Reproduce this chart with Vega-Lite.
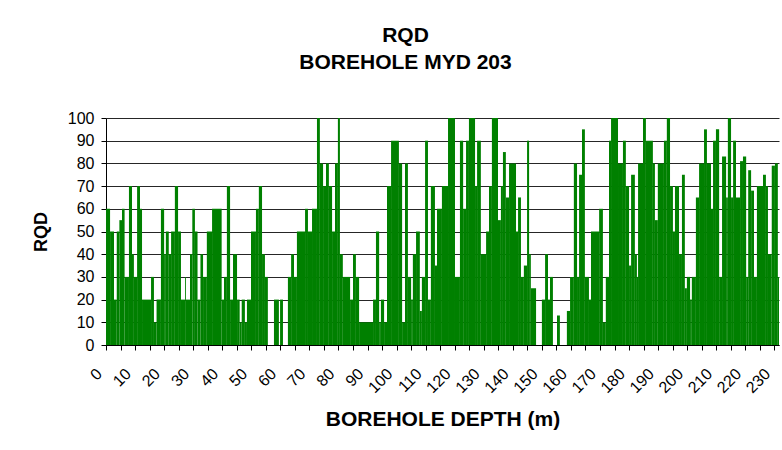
{
  "$schema": "https://vega.github.io/schema/vega-lite/v6.json",
  "width": 673,
  "height": 227,
  "autosize": {"type": "none"},
  "padding": {"left": 106, "top": 118, "right": 3, "bottom": 105},
  "background": "white",
  "title": {
    "text": ["RQD", "BOREHOLE MYD 203"],
    "font": "Liberation Sans",
    "fontSize": 21,
    "fontWeight": "bold",
    "color": "black",
    "anchor": "middle",
    "baseline": "bottom",
    "dx": -37,
    "offset": 16,
    "lineHeight": 27
  },
  "config": {
    "view": {"stroke": null},
    "axis": {
      "labelFont": "Liberation Sans",
      "labelFontSize": 16,
      "labelColor": "black",
      "titleFont": "Liberation Sans",
      "titleFontSize": 18,
      "titleFontWeight": "bold",
      "titleColor": "black",
      "domainColor": "black",
      "tickColor": "black",
      "tickSize": 5
    }
  },
  "data": {
    "values": [
      {"from": 0, "to": 1.4, "rqd": 60},
      {"from": 1.4, "to": 2.75, "rqd": 50},
      {"from": 2.75, "to": 3.7, "rqd": 20},
      {"from": 3.7, "to": 4.6, "rqd": 50},
      {"from": 4.6, "to": 5.5, "rqd": 55},
      {"from": 5.5, "to": 6.4, "rqd": 60},
      {"from": 6.4, "to": 7.9, "rqd": 30},
      {"from": 7.9, "to": 8.95, "rqd": 70},
      {"from": 8.95, "to": 9.6, "rqd": 40},
      {"from": 9.6, "to": 10.7, "rqd": 30},
      {"from": 10.7, "to": 11.7, "rqd": 70},
      {"from": 11.7, "to": 12.4, "rqd": 60},
      {"from": 12.4, "to": 15.5, "rqd": 20},
      {"from": 15.5, "to": 16.5, "rqd": 30},
      {"from": 16.5, "to": 17.4, "rqd": 10},
      {"from": 17.4, "to": 18.9, "rqd": 20},
      {"from": 18.9, "to": 20.0, "rqd": 60},
      {"from": 20.0, "to": 20.6, "rqd": 40},
      {"from": 20.6, "to": 21.6, "rqd": 50},
      {"from": 21.6, "to": 22.4, "rqd": 40},
      {"from": 22.4, "to": 23.7, "rqd": 50},
      {"from": 23.7, "to": 24.8, "rqd": 70},
      {"from": 24.8, "to": 25.8, "rqd": 50},
      {"from": 25.8, "to": 27.2, "rqd": 20},
      {"from": 27.2, "to": 27.5, "rqd": 30},
      {"from": 27.5, "to": 28.9, "rqd": 20},
      {"from": 28.9, "to": 29.7, "rqd": 40},
      {"from": 29.7, "to": 30.6, "rqd": 60},
      {"from": 30.6, "to": 31.5, "rqd": 50},
      {"from": 31.5, "to": 32.5, "rqd": 20},
      {"from": 32.5, "to": 33.4, "rqd": 40},
      {"from": 33.4, "to": 34.7, "rqd": 30},
      {"from": 34.7, "to": 36.5, "rqd": 50},
      {"from": 36.5, "to": 39.8, "rqd": 60},
      {"from": 39.8, "to": 40.6, "rqd": 20},
      {"from": 40.6, "to": 41.6, "rqd": 30},
      {"from": 41.6, "to": 42.7, "rqd": 70},
      {"from": 42.7, "to": 43.7, "rqd": 20},
      {"from": 43.7, "to": 45.1, "rqd": 40},
      {"from": 45.1, "to": 46.0, "rqd": 20},
      {"from": 46.0, "to": 46.7, "rqd": 10},
      {"from": 46.7, "to": 47.8, "rqd": 20},
      {"from": 47.8, "to": 48.5, "rqd": 10},
      {"from": 48.5, "to": 49.9, "rqd": 20},
      {"from": 49.9, "to": 51.6, "rqd": 50},
      {"from": 51.6, "to": 52.6, "rqd": 60},
      {"from": 52.6, "to": 53.7, "rqd": 70},
      {"from": 53.7, "to": 54.7, "rqd": 40},
      {"from": 54.7, "to": 55.7, "rqd": 30},
      {"from": 57.8, "to": 59.5, "rqd": 20},
      {"from": 59.9, "to": 60.9, "rqd": 20},
      {"from": 62.6, "to": 63.7, "rqd": 30},
      {"from": 63.7, "to": 64.7, "rqd": 40},
      {"from": 64.7, "to": 65.7, "rqd": 30},
      {"from": 65.7, "to": 68.5, "rqd": 50},
      {"from": 68.5, "to": 69.5, "rqd": 60},
      {"from": 69.5, "to": 70.9, "rqd": 50},
      {"from": 70.9, "to": 72.6, "rqd": 60},
      {"from": 72.6, "to": 73.6, "rqd": 100},
      {"from": 73.6, "to": 74.7, "rqd": 80},
      {"from": 74.7, "to": 75.7, "rqd": 70},
      {"from": 75.7, "to": 76.7, "rqd": 80},
      {"from": 76.7, "to": 77.8, "rqd": 70},
      {"from": 77.8, "to": 78.8, "rqd": 50},
      {"from": 78.8, "to": 79.8, "rqd": 80},
      {"from": 79.8, "to": 80.5, "rqd": 100},
      {"from": 80.5, "to": 81.5, "rqd": 40},
      {"from": 81.5, "to": 84.0, "rqd": 30},
      {"from": 84.0, "to": 85.0, "rqd": 20},
      {"from": 85.0, "to": 86.0, "rqd": 40},
      {"from": 86.0, "to": 87.1, "rqd": 30},
      {"from": 87.1, "to": 91.9, "rqd": 10},
      {"from": 91.9, "to": 92.9, "rqd": 20},
      {"from": 92.9, "to": 94.0, "rqd": 50},
      {"from": 94.0, "to": 94.6, "rqd": 10},
      {"from": 94.6, "to": 95.7, "rqd": 20},
      {"from": 95.7, "to": 96.7, "rqd": 10},
      {"from": 96.7, "to": 98.1, "rqd": 70},
      {"from": 98.1, "to": 100.8, "rqd": 90},
      {"from": 100.8, "to": 101.9, "rqd": 80},
      {"from": 101.9, "to": 102.9, "rqd": 10},
      {"from": 102.9, "to": 103.9, "rqd": 80},
      {"from": 103.9, "to": 105.0, "rqd": 30},
      {"from": 105.0, "to": 105.6, "rqd": 20},
      {"from": 105.6, "to": 106.7, "rqd": 40},
      {"from": 106.7, "to": 108.0, "rqd": 50},
      {"from": 108.0, "to": 108.7, "rqd": 15},
      {"from": 108.7, "to": 109.8, "rqd": 30},
      {"from": 109.8, "to": 110.8, "rqd": 90},
      {"from": 110.8, "to": 111.8, "rqd": 20},
      {"from": 111.8, "to": 113.2, "rqd": 70},
      {"from": 113.2, "to": 113.9, "rqd": 35},
      {"from": 113.9, "to": 115.6, "rqd": 60},
      {"from": 115.6, "to": 117.7, "rqd": 70},
      {"from": 117.7, "to": 120.1, "rqd": 100},
      {"from": 120.1, "to": 121.8, "rqd": 30},
      {"from": 121.8, "to": 122.9, "rqd": 90},
      {"from": 122.9, "to": 123.9, "rqd": 60},
      {"from": 123.9, "to": 124.9, "rqd": 90},
      {"from": 124.9, "to": 127.0, "rqd": 100},
      {"from": 127.0, "to": 127.7, "rqd": 70},
      {"from": 127.7, "to": 129.0, "rqd": 90},
      {"from": 129.0, "to": 130.8, "rqd": 40},
      {"from": 130.8, "to": 131.8, "rqd": 50},
      {"from": 131.8, "to": 132.8, "rqd": 70},
      {"from": 132.8, "to": 134.9, "rqd": 100},
      {"from": 134.9, "to": 135.9, "rqd": 55},
      {"from": 135.9, "to": 136.6, "rqd": 70},
      {"from": 136.6, "to": 137.6, "rqd": 85},
      {"from": 137.6, "to": 138.7, "rqd": 65},
      {"from": 138.7, "to": 141.1, "rqd": 80},
      {"from": 141.1, "to": 141.8, "rqd": 50},
      {"from": 141.8, "to": 142.8, "rqd": 65},
      {"from": 142.8, "to": 143.8, "rqd": 30},
      {"from": 143.8, "to": 144.9, "rqd": 35},
      {"from": 144.9, "to": 145.6, "rqd": 90},
      {"from": 145.6, "to": 146.2, "rqd": 40},
      {"from": 146.2, "to": 148.0, "rqd": 25},
      {"from": 150.0, "to": 151.1, "rqd": 20},
      {"from": 151.1, "to": 152.1, "rqd": 40},
      {"from": 152.1, "to": 152.8, "rqd": 20},
      {"from": 152.8, "to": 153.8, "rqd": 30},
      {"from": 155.2, "to": 156.2, "rqd": 13},
      {"from": 158.6, "to": 159.7, "rqd": 15},
      {"from": 159.7, "to": 161.0, "rqd": 30},
      {"from": 161.0, "to": 162.1, "rqd": 80},
      {"from": 162.1, "to": 162.8, "rqd": 30},
      {"from": 162.8, "to": 163.8, "rqd": 75},
      {"from": 163.8, "to": 164.8, "rqd": 95},
      {"from": 164.8, "to": 166.2, "rqd": 30},
      {"from": 166.2, "to": 166.9, "rqd": 20},
      {"from": 166.9, "to": 169.7, "rqd": 50},
      {"from": 169.7, "to": 171.0, "rqd": 60},
      {"from": 171.0, "to": 172.0, "rqd": 10},
      {"from": 172.0, "to": 173.1, "rqd": 30},
      {"from": 173.1, "to": 173.8, "rqd": 90},
      {"from": 173.8, "to": 176.2, "rqd": 100},
      {"from": 176.2, "to": 177.9, "rqd": 80},
      {"from": 177.9, "to": 178.9, "rqd": 90},
      {"from": 178.9, "to": 180.0, "rqd": 70},
      {"from": 180.0, "to": 180.7, "rqd": 35},
      {"from": 180.7, "to": 182.0, "rqd": 75},
      {"from": 182.0, "to": 182.7, "rqd": 40},
      {"from": 182.7, "to": 183.1, "rqd": 30},
      {"from": 183.1, "to": 184.8, "rqd": 80},
      {"from": 184.8, "to": 185.8, "rqd": 100},
      {"from": 185.8, "to": 188.2, "rqd": 90},
      {"from": 188.2, "to": 188.9, "rqd": 80},
      {"from": 188.9, "to": 189.9, "rqd": 55},
      {"from": 189.9, "to": 192.0, "rqd": 80},
      {"from": 192.0, "to": 193.0, "rqd": 90},
      {"from": 193.0, "to": 194.1, "rqd": 100},
      {"from": 194.1, "to": 195.1, "rqd": 70},
      {"from": 195.1, "to": 195.8, "rqd": 50},
      {"from": 195.8, "to": 197.2, "rqd": 70},
      {"from": 197.2, "to": 198.2, "rqd": 40},
      {"from": 198.2, "to": 199.2, "rqd": 75},
      {"from": 199.2, "to": 199.9, "rqd": 25},
      {"from": 199.9, "to": 201.0, "rqd": 30},
      {"from": 201.0, "to": 201.6, "rqd": 20},
      {"from": 201.6, "to": 203.0, "rqd": 30},
      {"from": 203.0, "to": 204.1, "rqd": 65},
      {"from": 204.1, "to": 205.8, "rqd": 80},
      {"from": 205.8, "to": 206.8, "rqd": 95},
      {"from": 206.8, "to": 208.2, "rqd": 80},
      {"from": 208.2, "to": 208.9, "rqd": 60},
      {"from": 208.9, "to": 209.9, "rqd": 90},
      {"from": 209.9, "to": 211.0, "rqd": 95},
      {"from": 211.0, "to": 212.0, "rqd": 30},
      {"from": 212.0, "to": 213.4, "rqd": 83},
      {"from": 213.4, "to": 214.0, "rqd": 65},
      {"from": 214.0, "to": 215.1, "rqd": 100},
      {"from": 215.1, "to": 215.8, "rqd": 65},
      {"from": 215.8, "to": 216.8, "rqd": 90},
      {"from": 216.8, "to": 218.2, "rqd": 65},
      {"from": 218.2, "to": 219.2, "rqd": 81},
      {"from": 219.2, "to": 220.3, "rqd": 83},
      {"from": 220.3, "to": 221.0, "rqd": 30},
      {"from": 221.0, "to": 222.0, "rqd": 77},
      {"from": 222.0, "to": 223.0, "rqd": 68},
      {"from": 223.0, "to": 224.0, "rqd": 30},
      {"from": 224.0, "to": 226.1, "rqd": 70},
      {"from": 226.1, "to": 227.1, "rqd": 75},
      {"from": 227.1, "to": 227.8, "rqd": 70},
      {"from": 227.8, "to": 229.1, "rqd": 40},
      {"from": 229.1, "to": 230.2, "rqd": 79},
      {"from": 230.2, "to": 231.2, "rqd": 80},
      {"from": 231.2, "to": 231.6, "rqd": 30}
    ]
  },
  "mark": {"type": "rect", "color": "#008000", "clip": true},
  "encoding": {
    "x": {
      "field": "from",
      "type": "quantitative",
      "scale": {"domain": [0, 231.6], "nice": false, "zero": false},
      "axis": {
        "values": [0,5,10,15,20,25,30,35,40,45,50,55,60,65,70,75,80,85,90,95,100,105,110,115,120,125,130,135,140,145,150,155,160,165,170,175,180,185,190,195,200,205,210,215,220,225,230],
        "labelExpr": "datum.value % 10 === 0 ? datum.label : ''",
        "labelAngle": -45,
        "labelAlign": "right",
        "labelBaseline": "middle",
        "labelPadding": 21,
        "labelOffset": -7,
        "labelOverlap": false,
        "labelFlush": false,
        "grid": false,
        "title": "BOREHOLE DEPTH (m)",
        "titleFontSize": 21,
        "titlePadding": 13
      }
    },
    "x2": {"field": "to"},
    "y": {
      "field": "rqd",
      "type": "quantitative",
      "scale": {"domain": [0, 100], "nice": false},
      "axis": {
        "values": [0,10,20,30,40,50,60,70,80,90,100],
        "grid": true,
        "gridColor": "black",
        "gridWidth": 1,
        "gridOpacity": 0.85,
        "labelPadding": 7,
        "title": "RQD",
        "titlePadding": 17
      }
    },
    "y2": {"datum": 0}
  }
}
